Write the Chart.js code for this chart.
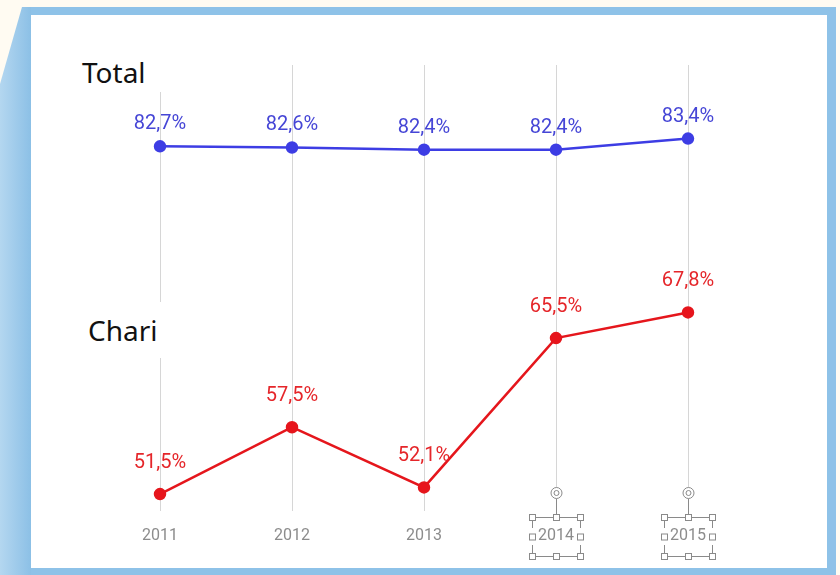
<!DOCTYPE html>
<html>
<head>
<meta charset="utf-8">
<script src="https://cdn.jsdelivr.net/npm/chart.js@4.4.1/dist/chart.umd.min.js"></script>
<style>
  html, body { margin: 0; padding: 0; background: #fffbf2; }
  #wrap { position: relative; width: 840px; height: 575px; overflow: hidden; }
  .band { position: absolute; background: #8ec2e8; }
  #left {
    position: absolute; left: 0; top: 0; width: 31px; height: 575px;
    background: linear-gradient(to right, #b4d7f0, #8cc0e6);
    clip-path: polygon(22px 7px, 31px 7px, 31px 575px, 0 575px, 0 84px);
  }
  #inner { position: absolute; left: 31px; top: 15px; width: 796px; height: 553px; background: #fff; }
  canvas { position: absolute; left: 0; top: 0; }
  .name {
    position: absolute; background: #fff; color: #111;
    font-family: "Noto Sans", "Open Sans", sans-serif; font-size: 28px; line-height: 40px;
    z-index: 2;
  }
</style>
</head>
<body>
<div id="wrap">
  <div class="band" style="left:22px; top:7px; width:814px; height:8px;"></div>
  <div class="band" style="left:827px; top:7px; width:9px; height:568px;"></div>
  <div class="band" style="left:0; top:568px; width:836px; height:7px;"></div>
  <div id="left"></div>
  <div id="inner"></div>
  <canvas id="myChart" width="840" height="575"></canvas>
  <div class="name" style="left:66px; top:52px; width:104px; padding-left:16px;">Total</div>
  <div class="name" style="left:70px; top:302px; width:100px; padding-left:18px; height:56px; line-height:56px;">Chari</div>
</div>
<script>
var years = ['2011', '2012', '2013', '2014', '2015'];
var total = [82.7, 82.6, 82.4, 82.4, 83.4];
var chari = [51.5, 57.5, 52.1, 65.5, 67.8];

function fmt(v) {
    return v.toFixed(1).replace('.', ',') + '%';
}

// value labels above each point
var pointLabels = {
    id: 'pointLabels',
    afterDatasetsDraw: function (chart) {
        var c = chart.ctx;
        c.save();
        c.font = '20px Roboto, "Liberation Sans", sans-serif';
        c.textAlign = 'center';
        c.textBaseline = 'middle';
        chart.data.datasets.forEach(function (ds, i) {
            var meta = chart.getDatasetMeta(i);
            c.fillStyle = ds.labelColor;
            meta.data.forEach(function (pt, j) {
                c.fillText(fmt(ds.data[j]), pt.x, pt.y - ds.labelGap);
            });
        });
        c.restore();
    }
};

// the leftover selection handles around the last two year labels
var handles = {
    id: 'handles',
    afterDraw: function (chart) {
        var c = chart.ctx;
        var xs = chart.scales.x;
        c.save();
        c.strokeStyle = '#8a8a8a';
        c.fillStyle = '#fff';
        c.lineWidth = 1;
        [3, 4].forEach(function (i) {
            var x = Math.round(xs.getPixelForValue(i)) + 0.5;
            var t = 517.5, b = 556.5, l = x - 24, r = x + 24;
            c.beginPath();
            c.moveTo(x, 499); c.lineTo(x, t);
            c.moveTo(l, t); c.lineTo(r, t);
            c.moveTo(l, b); c.lineTo(r, b);
            c.moveTo(l, t); c.lineTo(l, 528);
            c.moveTo(l, 545); c.lineTo(l, b);
            c.moveTo(r, t); c.lineTo(r, 528);
            c.moveTo(r, 545); c.lineTo(r, b);
            c.stroke();
            c.beginPath(); c.arc(x, 493, 5.5, 0, Math.PI * 2); c.fill(); c.stroke();
            c.beginPath(); c.arc(x, 493, 2.5, 0, Math.PI * 2); c.stroke();
            [[l, t], [x, t], [r, t], [l, (t + b) / 2], [r, (t + b) / 2], [l, b], [x, b], [r, b]].forEach(function (p) {
                c.fillRect(p[0] - 3, p[1] - 3, 6, 6);
                c.strokeRect(p[0] - 3, p[1] - 3, 6, 6);
            });
        });
        c.restore();
    }
};

const ctx = document.getElementById('myChart');
var cht = new Chart(ctx, {
    type: 'line',
    data: {
        labels: years,
        datasets: [{
            label: 'Total',
            data: total,
            borderColor: '#3d3de4',
            backgroundColor: '#3d3de4',
            labelColor: '#4646d6',
            labelGap: 22,
            borderWidth: 2.5,
            pointRadius: 5,
            tension: 0,
            clip: false
        }, {
            label: 'Chari',
            data: chari,
            borderColor: '#e5161c',
            backgroundColor: '#e8141c',
            labelColor: '#e5262a',
            labelGap: 31,
            borderWidth: 2.5,
            pointRadius: 5,
            tension: 0,
            clip: false
        }]
    },
    options: {
        responsive: false,
        animation: false,
        devicePixelRatio: 1,
        layout: { padding: { left: 160, right: 152, top: 65, bottom: 13 } },
        plugins: {
            legend: { display: false },
            tooltip: { enabled: false }
        },
        scales: {
            x: {
                offset: false,
                border: { display: false },
                grid: { color: '#d6d6d6', drawTicks: false },
                ticks: {
                    padding: 16,
                    color: '#8c8c8c',
                    font: { family: 'Roboto', size: 16 }
                }
            },
            y: {
                display: false,
                min: 50,
                max: 90
            }
        }
    },
    plugins: [pointLabels, handles]
});
</script>
</body>
</html>
